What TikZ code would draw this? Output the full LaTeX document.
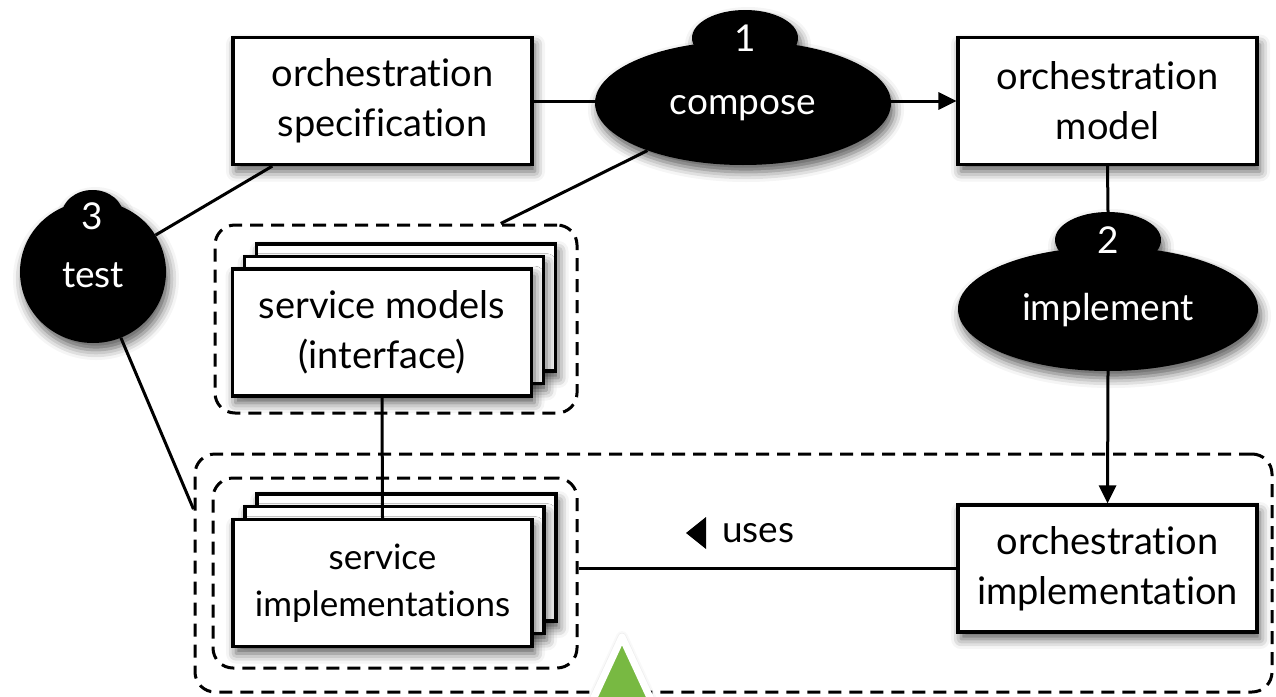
\documentclass[tikz,border=0pt]{standalone}
\usepackage{fontspec}
\setmainfont{Lato}[Ligatures={NoCommon,NoDiscretionary,NoContextual}]
\usetikzlibrary{shadows.blur,calc,shapes.geometric,arrows.meta}
\definecolor{triGreen}{RGB}{120,185,66}

\begin{document}
\begin{tikzpicture}[x=1pt,y=-1pt,
  soft/.style={blur shadow={shadow xshift=3pt,shadow yshift=-7pt,shadow blur radius=10pt,shadow opacity=65}},
  box/.style={draw=black,fill=white,line width=3.2pt,minimum width=299pt,minimum height=127pt,
    align=center,inner sep=0pt,font=\fontsize{38}{50}\selectfont,soft},
  blob/.style={ellipse,fill=black,draw=none,inner sep=0pt,text=white,
    font=\fontsize{37}{40}\selectfont,soft},
  group/.style={draw=black,line width=3pt,dash pattern=on 13pt off 8pt,rounded corners=20pt,inner sep=0pt},
  link/.style={line width=3pt},
  arr/.style={link,-{Triangle[length=18pt,width=17pt]}}]

\clip (0,0) rectangle (1276,696);

% dashed groupings
\node[group,minimum width=1077pt,minimum height=238pt] (outer) at (733.5,573) {};
\node[group,minimum width=362pt,minimum height=188pt] (smgroup) at (396,319) {};
\node[group,minimum width=364pt,minimum height=190pt] (sigroup) at (395,573) {};

% plain boxes
\node[box] (spec) at (382.5,101) {orchestration\\specification};
\node[box] (model) at (1107.5,101) {orchestration\\model};
\node[box] (impl) at (1107.5,568.5) {orchestration\\implementation};

% stacked service models
\node[box] (smc) at (406,307.5) {};
\node[box] (smb) at (394,320) {};
\node[box] (smf) at (382,332.5) {service models\\(interface)};

% stacked service implementations
\node[box] (sic) at (406.5,557.5) {};
\node[box] (sib) at (394.5,570) {};
\node[box,font=\fontsize{35}{47}\selectfont] (sif) at (382.5,583) {service\\implementations};

% step bubbles: body first, numbered cap on top
\node[blob,minimum width=296pt,minimum height=124pt,text height=23pt,text depth=0pt] (compose) at (743,103) {compose};
\node[blob,minimum width=106pt,minimum height=56pt] (b1) at (745,38) {1};
\node[blob,minimum width=300pt,minimum height=124pt,text height=23pt,text depth=0pt] (implement) at (1108,309) {implement};
\node[blob,minimum width=106pt,minimum height=56pt] (b2) at (1108,240) {2};
\node[blob,minimum width=146pt,minimum height=142pt,text height=30pt,text depth=0pt] (test) at (93,272) {test};
\node[blob,minimum width=62pt,minimum height=52pt] (b3) at (92.5,216) {3};

% connectors
\draw[link] (spec.east) -- (spec.east -| compose.west);
\draw[arr] (compose.east |- model.west) -- (model.west);
\draw[link] (model.south) -- (b2.north);
\draw[arr] (implement.south) -- (impl.north);
\draw[link] (test) -- (spec);
\draw[link] (test) -- ($(outer.north west)!0.235!(outer.south west)$);
\draw[link] ($(smgroup.north west)!0.787!(smgroup.north east)$) -- (compose);
\draw[link] (smf.south) -- (sif.north);
\draw[link] (sigroup.east |- impl.west) -- (impl.west);

% relation label
\node[anchor=west,inner sep=0pt,font=\fontsize{37}{40}\selectfont] (uses) at (722,533) {uses};
\fill ($(uses.west)+(-16,-16)$) -- ++(0,32) -- ++(-20,-16) -- cycle;

% green marker
\filldraw[fill=triGreen,draw=white,line width=7pt,line join=round,
  blur shadow={shadow xshift=0pt,shadow yshift=0pt,shadow blur radius=6pt,shadow opacity=35}]
  (622,637) -- (665,730) -- (579,730) -- cycle;
\end{tikzpicture}
\end{document}
